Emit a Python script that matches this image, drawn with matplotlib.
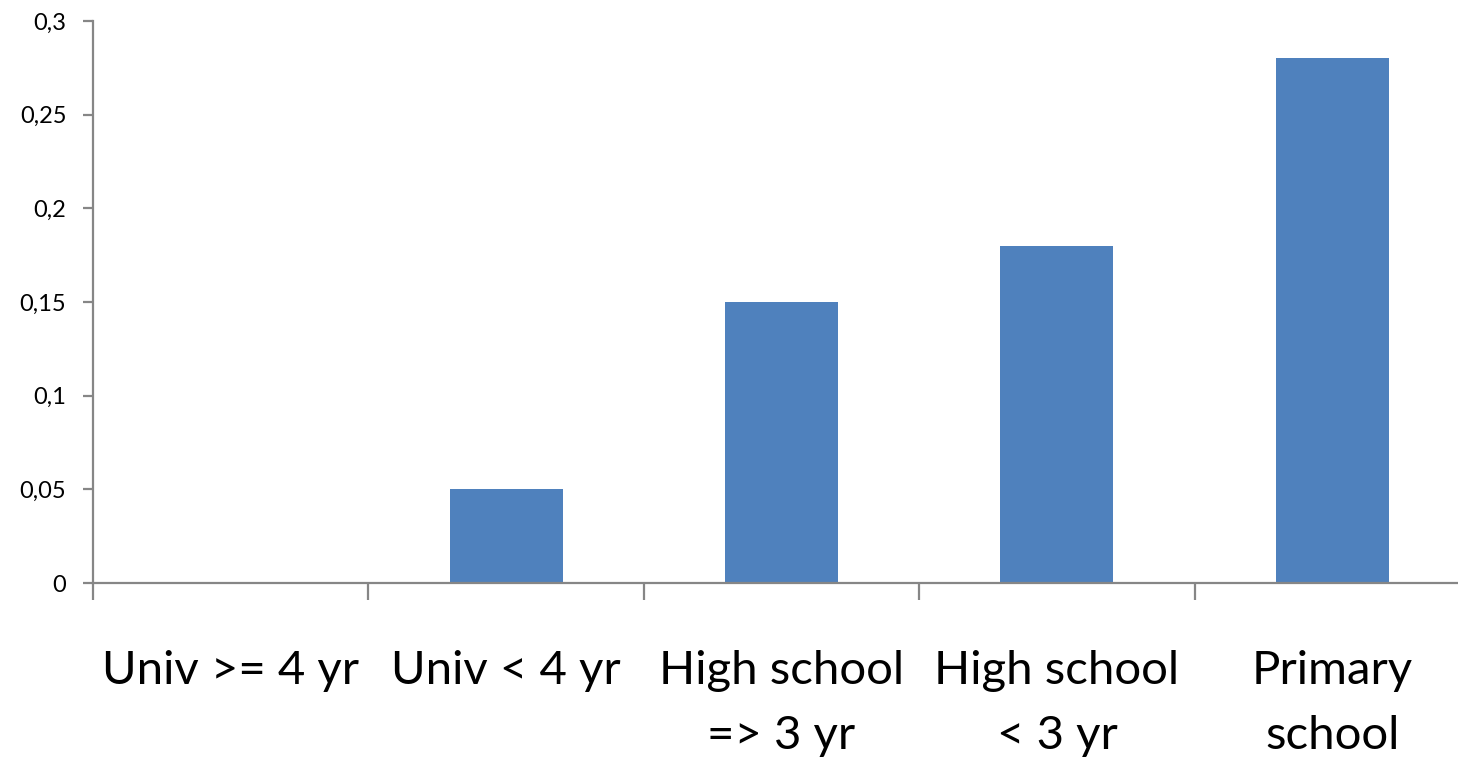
import matplotlib
matplotlib.use("Agg")
import matplotlib.pyplot as plt
import numpy as np

categories = ["Univ >= 4 yr", "Univ < 4 yr", "High school\n=> 3 yr", "High school\n< 3 yr", "Primary\nschool"]
values = [0.0, 0.05, 0.15, 0.18, 0.28]
y_ticks = [0, 0.05, 0.1, 0.15, 0.2, 0.25, 0.3]
y_tick_labels = ["0", "0,05", "0,1", "0,15", "0,2", "0,25", "0,3"]

plt.rcParams['font.family'] = ['Lato', 'DejaVu Sans']

W, H = 1458, 757
fig = plt.figure(figsize=(W / 100, H / 100), dpi=100)
ax = fig.add_axes([93 / W, (H - 583) / H, (1470 - 93) / W, 562 / H])

axis_grey = "#868686"
x = np.arange(len(categories))
ax.bar(x, values, width=0.41, color="#4F81BD", zorder=2)

ax.set_xlim(-0.5, len(categories) - 0.5)
ax.set_ylim(0, 0.3)

for s in ["top", "right"]:
    ax.spines[s].set_visible(False)
for s in ["left", "bottom"]:
    ax.spines[s].set_color(axis_grey)
    ax.spines[s].set_linewidth(1.6)

ax.set_yticks(y_ticks)
ax.set_yticklabels(y_tick_labels)
ax.tick_params(axis="y", length=7.2, width=1.6, color=axis_grey, pad=12, labelsize=17)

# boundary ticks between categories, labels at category centres
ax.set_xticks(np.arange(len(categories) + 1) - 0.5)
ax.set_xticklabels([])
ax.tick_params(axis="x", which="major", length=12.2, width=1.6, color=axis_grey)
ax.set_xticks(x, minor=True)
ax.set_xticklabels(categories, minor=True, linespacing=1.68)
ax.tick_params(axis="x", which="minor", length=0, pad=48, labelsize=34)

fig.savefig("out.png", dpi=100)
